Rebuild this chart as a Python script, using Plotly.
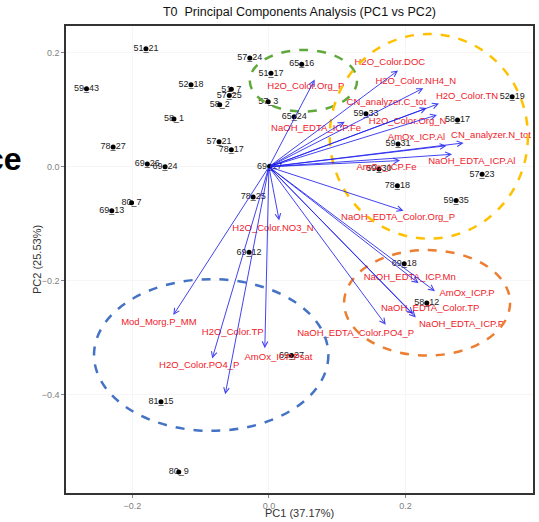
import plotly.graph_objects as go

# ---- sample scores (PC1, PC2) ----
sample_labels = ["51_21", "57_24", "51_17", "59_43", "52_18", "51_7", "57_25", "58_2", "57_3",
                 "65_24", "58_1", "57_21", "78_27", "78_17", "69_26", "69_24", "69_17", "65_16",
                 "59_33", "52_19", "58_17", "59_31", "59_30", "57_23", "78_18", "59_35", "69_18",
                 "58_12", "80_7", "69_13", "78_25", "69_12", "69_27", "81_15", "80_9"]
pc1 = [-0.180, -0.028, 0.003, -0.267, -0.114, -0.055, -0.058, -0.072, -0.001,
       0.037, -0.139, -0.073, -0.228, -0.055, -0.178, -0.152, 0.001, 0.048,
       0.142, 0.356, 0.276, 0.189, 0.161, 0.312, 0.188, 0.274, 0.198,
       0.231, -0.201, -0.230, -0.023, -0.029, 0.033, -0.158, -0.132]
pc2 = [0.207, 0.191, 0.164, 0.137, 0.144, 0.136, 0.125, 0.109, 0.114,
       0.088, 0.084, 0.044, 0.035, 0.030, 0.005, 0.000, 0.001, 0.180,
       0.093, 0.123, 0.082, 0.040, -0.004, -0.013, -0.033, -0.059, -0.170,
       -0.239, -0.063, -0.077, -0.053, -0.150, -0.331, -0.412, -0.535]

# ---- loadings (arrow tips) ----
var_names = ["H2O_Color.DOC", "H2O_Color.NH4_N", "H2O_Color.TN", "CN_analyzer.C_tot",
             "H2O_Color.Org_N", "AmOx_ICP.Al", "CN_analyzer.N_tot", "NaOH_EDTA_ICP.Al",
             "AmOx_ICP.Fe", "NaOH_EDTA_ICP.Fe", "H2O_Color.Org_P", "NaOH_EDTA_Color.Org_P",
             "NaOH_EDTA_ICP.Mn", "AmOx_ICP.P", "NaOH_EDTA_Color.TP", "NaOH_EDTA_ICP.P",
             "NaOH_EDTA_Color.PO4_P", "H2O_Color.NO3_N", "Mod_Morg.P_MM", "H2O_Color.TP",
             "AmOx_ICP.Psat", "H2O_Color.PO4_P"]
load1 = [0.189, 0.226, 0.249, 0.231, 0.246, 0.260, 0.285, 0.268,
         0.192, 0.111, 0.067, 0.197, 0.219, 0.243, 0.211, 0.215,
         0.171, 0.015, -0.140, -0.064, -0.006, -0.083]
load2 = [0.169, 0.138, 0.111, 0.103, 0.091, 0.037, 0.042, 0.022,
         0.011, 0.079, 0.153, -0.077, -0.204, -0.218, -0.258, -0.264,
         -0.277, -0.094, -0.260, -0.399, -0.318, -0.336]
# label anchor positions for the loading names
lab1 = [0.177, 0.215, 0.290, 0.172, 0.203, 0.216, 0.325, 0.297,
        0.172, 0.069, 0.054, 0.189, 0.206, 0.290, 0.236, 0.282,
        0.127, 0.006, -0.161, -0.053, 0.014, -0.102]
lab2 = [0.182, 0.150, 0.123, 0.112, 0.080, 0.052, 0.054, 0.009,
        -0.002, 0.067, 0.141, -0.089, -0.194, -0.223, -0.249, -0.276,
        -0.293, -0.109, -0.273, -0.291, -0.334, -0.349]

# ---- hand-drawn group ellipses (x0, x1, y0, y1, colour) ----
ellipses = [
    (-0.028, 0.129, 0.097, 0.205, "#5fa83a"),
    (0.089, 0.379, -0.126, 0.233, "#ffc000"),
    (0.110, 0.353, -0.331, -0.146, "#ed7d31"),
    (-0.256, 0.087, -0.463, -0.197, "#4472c4"),
]

FONT = "Liberation Sans, Arial"

fig = go.Figure()

# sample labels
fig.add_trace(go.Scatter(
    x=pc1, y=pc2, mode="text", text=sample_labels, textposition="middle center",
    textfont=dict(family=FONT, size=9, color="#222222"),
    hoverinfo="skip", showlegend=False))
# sample points
fig.add_trace(go.Scatter(
    x=pc1, y=pc2, mode="markers", marker=dict(color="black", size=5),
    showlegend=False))

# loading labels
fig.add_trace(go.Scatter(
    x=lab1, y=lab2, mode="text", text=var_names, textposition="middle center",
    textfont=dict(family=FONT, size=9.5, color="#f0202a"),
    hoverinfo="skip", showlegend=False))

annotations = []
for x, y in zip(load1, load2):
    annotations.append(dict(
        x=x, y=y, ax=0, ay=0, xref="x", yref="y", axref="x", ayref="y",
        text="", showarrow=True, arrowhead=5, arrowsize=1.1, arrowwidth=1,
        arrowcolor="rgba(35,35,240,0.85)"))

# slide fragment at the left edge
annotations.append(dict(
    text="ce", xref="paper", yref="paper", x=-0.09, y=0.715,
    xanchor="right", yanchor="middle", showarrow=False,
    font=dict(family=FONT, size=32, color="black", weight="bold")))
# axis titles
annotations.append(dict(
    text="PC1 (37.17%)", xref="paper", yref="paper", x=0.5, y=-0.0428,
    xanchor="center", yanchor="middle", showarrow=False,
    font=dict(family=FONT, size=11, color="#333333")))
annotations.append(dict(
    text="PC2 (25.53%)", xref="paper", yref="paper", x=-0.062, y=0.499,
    xanchor="center", yanchor="middle", showarrow=False, textangle=-90,
    font=dict(family=FONT, size=11, color="#333333")))

shapes = []
for x0, x1, y0, y1, col in ellipses:
    shapes.append(dict(type="circle", xref="x", yref="y", x0=x0, x1=x1, y0=y0, y1=y1,
                       line=dict(color=col, width=2.5, dash="dash"), layer="above"))

axis_common = dict(
    showline=True, linecolor="#333333", linewidth=1.5, mirror=True,
    ticks="outside", ticklen=3, tickcolor="#888888", tickwidth=1,
    tickfont=dict(family=FONT, size=9, color="#7f7f7f"),
    showgrid=True, gridcolor="#f6f6f6", zeroline=False, tickformat=".1f",
)

fig.update_layout(
    width=539, height=522,
    margin=dict(l=66, r=6, t=26, b=29, autoexpand=False),
    paper_bgcolor="white", plot_bgcolor="white",
    title=dict(text="T0  Principal Components Analysis (PC1 vs PC2)",
               x=(66 + 533) / 2 / 539, xanchor="center", y=1 - 12 / 522, yanchor="middle",
               font=dict(family=FONT, size=12.5, color="#111111")),
    xaxis=dict(range=[-0.297, 0.3865], tickvals=[-0.2, 0.0, 0.2], **axis_common),
    yaxis=dict(range=[-0.572, 0.247], tickvals=[-0.4, -0.2, 0.0, 0.2], **axis_common),
    annotations=annotations,
    shapes=shapes,
    showlegend=False,
)

fig.write_html("out.html",
               config={"displayModeBar": False},
               post_script="document.body.style.margin='0';document.body.style.overflow='hidden';")
